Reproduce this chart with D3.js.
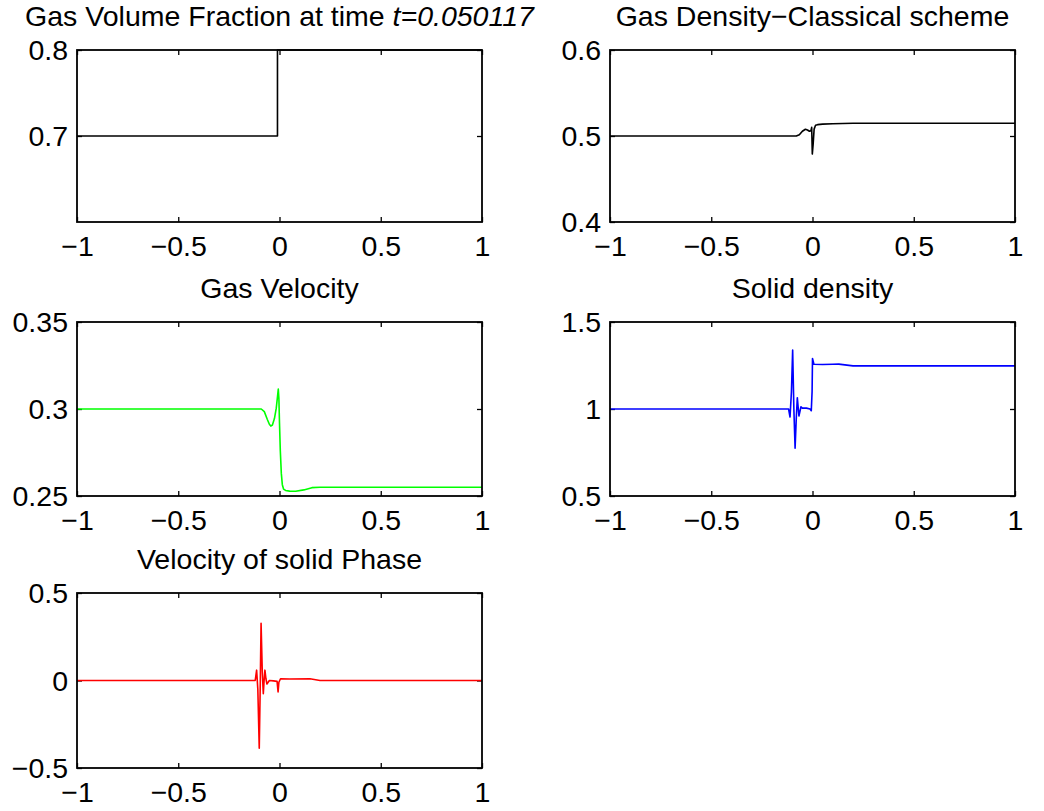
<!DOCTYPE html>
<html>
<head>
<meta charset="utf-8">
<script src="https://cdn.jsdelivr.net/npm/d3@7"></script>
<style>
  body { margin: 0; background: #fff; }
  svg text { font-family: "Liberation Sans", Arial, sans-serif; fill: #000; }
</style>
</head>
<body>
<svg id="fig" width="1044" height="811"></svg>
<script>
/* Five MATLAB-style subplots of a two-phase shock tube at t=0.050117 */

// shared x ticks
const X_TICKS = [-1, -0.5, 0, 0.5, 1];

// gas volume fraction: a step at the interface
const fracX = [-1, -0.01, -0.01, 1];
const fracY = [0.7, 0.7, 0.8, 0.8];

// gas density
const rhoGX = [-1, -0.08, -0.065, -0.05, -0.035, -0.025, -0.015, -0.008, -0.004, -0.001, 0.003, 0.008, 0.015, 0.025, 0.05, 0.1, 0.2, 1];
const rhoGY = [0.5, 0.5, 0.5015, 0.5055, 0.5078, 0.507, 0.5055, 0.506, 0.51, 0.479, 0.49, 0.508, 0.5125, 0.5132, 0.5138, 0.5143, 0.5148, 0.5148];

// gas velocity
const uGX = [-1, -0.09, -0.075, -0.06, -0.05, -0.043, -0.035, -0.025, -0.016, -0.01, -0.006, -0.003, 0, 0.004, 0.009, 0.014, 0.02, 0.03, 0.05, 0.08, 0.12, 0.16, 0.2, 1];
const uGY = [0.3, 0.3, 0.2985, 0.294, 0.2912, 0.2902, 0.2908, 0.2945, 0.3005, 0.307, 0.3115, 0.306, 0.292, 0.276, 0.263, 0.2565, 0.254, 0.2532, 0.2528, 0.2527, 0.2535, 0.2548, 0.255, 0.255];

// solid density
const rhoSX = [-1, -0.118, -0.111, -0.104, -0.098, -0.092, -0.086, -0.08, -0.075, -0.067, -0.057, -0.05, -0.03, -0.012, -0.006, -0.002, 0, 0.007, 0.05, 0.1, 0.13, 0.2, 1];
const rhoSY = [1, 1, 0.954, 1.1, 1.339, 1.0, 0.774, 0.95, 1.065, 0.96, 1.013, 1.005, 1.005, 1.0, 0.99, 1.1, 1.29, 1.257, 1.256, 1.257, 1.258, 1.248, 1.248];

// solid velocity
const uSX = [-1, -0.12, -0.113, -0.107, -0.1, -0.095, -0.091, -0.085, -0.08, -0.076, -0.072, -0.067, -0.062, -0.05, -0.03, -0.012, -0.007, -0.003, 0.005, 0.05, 0.15, 0.2, 1];
const uSY = [0, 0, 0.059, -0.05, -0.387, -0.02, 0.327, 0.05, -0.076, 0.0, 0.059, 0.01, -0.02, 0.0, -0.002, -0.005, -0.065, -0.01, 0.01, 0.009, 0.01, 0.0, 0.0];

const panels = [
  { title: ["Gas Volume Fraction at time ", "t=0.050117"], xs: fracX, ys: fracY, yDomain: [0.6, 0.8], yTicks: [0.7, 0.8], color: "#000000",
    box: { left: 77, right: 482, top: 50, bottom: 222 } },
  { title: ["Gas Density\u2212Classical scheme"], xs: rhoGX, ys: rhoGY, yDomain: [0.4, 0.6], yTicks: [0.4, 0.5, 0.6], color: "#000000",
    box: { left: 610, right: 1015, top: 50, bottom: 222 } },
  { title: ["Gas Velocity"], xs: uGX, ys: uGY, yDomain: [0.25, 0.35], yTicks: [0.25, 0.3, 0.35], color: "#00ff00",
    box: { left: 77, right: 482, top: 322, bottom: 496 } },
  { title: ["Solid density"], xs: rhoSX, ys: rhoSY, yDomain: [0.5, 1.5], yTicks: [0.5, 1, 1.5], color: "#0000ff",
    box: { left: 610, right: 1015, top: 322, bottom: 496 } },
  { title: ["Velocity of solid Phase"], xs: uSX, ys: uSY, yDomain: [-0.5, 0.5], yTicks: [-0.5, 0, 0.5], color: "#ff0000",
    box: { left: 77, right: 482, top: 593, bottom: 768 } }
];

const FONT = 28.5;
const TICK = 5;
const fmt = d3.format("~g");   // uses the proper minus sign
const svg = d3.select("#fig");

panels.forEach((p, i) => {
  const b = p.box;
  const x = d3.scaleLinear().domain([-1, 1]).range([b.left, b.right]);
  const y = d3.scaleLinear().domain(p.yDomain).range([b.bottom, b.top]);
  const g = svg.append("g");

  const clipId = "clip" + i;
  g.append("clipPath").attr("id", clipId).append("rect")
      .attr("x", b.left).attr("y", b.top - 1)
      .attr("width", b.right - b.left).attr("height", b.bottom - b.top + 2);

  // inward ticks on all four sides, MATLAB style
  const axes = [
    [d3.axisBottom(x).tickValues(X_TICKS), `translate(0,${b.bottom})`, "bottom"],
    [d3.axisTop(x).tickValues(X_TICKS), `translate(0,${b.top})`, null],
    [d3.axisLeft(y).tickValues(p.yTicks), `translate(${b.left},0)`, "left"],
    [d3.axisRight(y).tickValues(p.yTicks), `translate(${b.right},0)`, null]
  ];
  axes.forEach(([ax, tr, side]) => {
    const a = g.append("g").attr("transform", tr)
        .call(ax.tickSizeInner(-TICK).tickSizeOuter(0).tickFormat(fmt));
    a.select(".domain").remove();
    a.selectAll(".tick line").attr("stroke", "#000").attr("stroke-width", 1.3);
    const txt = a.selectAll(".tick text");
    if (!side) { txt.remove(); return; }
    txt.attr("font-size", FONT).attr("font-family", null).attr("fill", "#000");
    if (side === "bottom") txt.attr("y", 34 - FONT * 0.71).attr("dy", "0.71em");
    else txt.attr("x", -9).attr("dy", "0.35em");
  });

  // data line
  const line = d3.line().x((d, k) => x(p.xs[k])).y(d => y(d));
  g.append("path")
      .attr("clip-path", `url(#${clipId})`)
      .attr("d", line(p.ys))
      .attr("fill", "none")
      .attr("stroke", p.color)
      .attr("stroke-width", 1.6)
      .attr("stroke-linejoin", "round");

  // axes box
  g.append("rect")
      .attr("x", b.left).attr("y", b.top)
      .attr("width", b.right - b.left).attr("height", b.bottom - b.top)
      .attr("fill", "none").attr("stroke", "#000").attr("stroke-width", 1.8);

  // title
  const t = g.append("text")
      .attr("x", (b.left + b.right) / 2).attr("y", b.top - 24)
      .attr("text-anchor", "middle").attr("font-size", FONT);
  t.append("tspan").text(p.title[0]);
  if (p.title[1]) t.append("tspan").attr("font-style", "italic").text(p.title[1]);
});
</script>
</body>
</html>
